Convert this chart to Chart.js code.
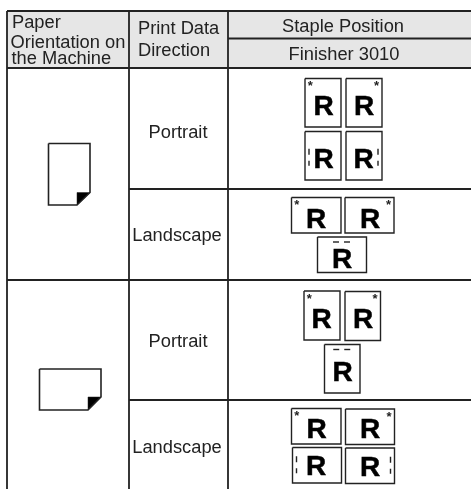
<!DOCTYPE html>
<html>
<head>
<meta charset="utf-8">
<title>Staple Position</title>
<script src="https://cdn.jsdelivr.net/npm/chart.js@4/dist/chart.umd.min.js"></script>
<style>
html, body { margin: 0; padding: 0; background: #fff; }
canvas { display: block; }
</style>
</head>
<body>
<canvas id="chart" width="471" height="489"></canvas>
<script>
// table text
const paperHeader = ['Paper', 'Orientation on', 'the Machine'];
const directionHeader = ['Print Data', 'Direction'];
const stapleHeader = 'Staple Position';
const finisherHeader = 'Finisher 3010';
const directions = ['Portrait', 'Landscape', 'Portrait', 'Landscape'];
const sheetLetter = 'R';
const stapleStar = '*';

// staple marks of every sheet, row by row
const staplesByRow = [
    ['topLeft', 'topRight', 'sideLeft', 'sideRight'],
    ['topLeft', 'topRight', 'top'],
    ['topLeft', 'topRight', 'top'],
    ['topLeft', 'topRight', 'sideLeft', 'sideRight']
];

// layout, in table units (1 unit = 1 px of the picture)
const columnEdges = [7, 129, 228];
const headerRows = [11, 38.5, 68];
const rowEdges = [189, 280, 400];
const tableRight = 471;
const tableBottom = 489;
const directionBaselines = [137.5, 241, 347, 453];
const sheetBoxes = [
    [[305, 341, 78.5, 127, 323.5, 115], [346, 382, 78.5, 127, 364, 115], [305, 341, 131.5, 180, 323.5, 167.5], [346, 382, 131.5, 180, 363.5, 167.5]],
    [[291.5, 341, 197.5, 233, 316, 228], [345, 394, 197.5, 233, 370, 228], [317.5, 366.5, 237, 272.5, 342, 267.5]],
    [[304, 340, 291, 340, 321.5, 327.7], [345, 380.5, 291.5, 340.5, 363, 328.3], [324.5, 360, 344.5, 393, 342.5, 380.5]],
    [[291.5, 341, 408.5, 444, 316.5, 438.3], [345.5, 394.5, 409, 444.5, 370, 438.3], [292.5, 341.5, 447.5, 483, 316, 475], [345.5, 394.5, 448, 483.5, 370, 475.5]]
];
const ink = '#222222';
const headerFill = '#e6e6e6';

function polyline(points, width, fillColor) {
    return {
        type: 'line',
        data: points.map(p => ({ x: p[0], y: p[1] })),
        borderColor: ink,
        borderWidth: width,
        backgroundColor: fillColor || 'transparent',
        fill: fillColor ? 'shape' : false,
        pointRadius: 0,
        tension: 0,
        clip: false,
        order: 0
    };
}

function boxPath(l, r, t, b) {
    return [[l, t], [r, t], [r, b], [l, b], [l, t]];
}

const datasets = [];
const labels = [];

function addLabel(text, x, y, font, align) {
    labels.push({ text, x, y, font, align: align || 'left' });
}

// header shading goes under the rules (higher order draws first)
const shade = polyline(boxPath(columnEdges[0], tableRight, headerRows[0], headerRows[2]), 0, headerFill);
shade.order = 1;
datasets.push(shade);

// table rules
const rules = [
    [[columnEdges[0], headerRows[0]], [tableRight, headerRows[0]]],
    [[columnEdges[2], headerRows[1]], [tableRight, headerRows[1]]],
    [[columnEdges[0], headerRows[2]], [tableRight, headerRows[2]]],
    [[columnEdges[1], rowEdges[0]], [tableRight, rowEdges[0]]],
    [[columnEdges[0], rowEdges[1]], [tableRight, rowEdges[1]]],
    [[columnEdges[1], rowEdges[2]], [tableRight, rowEdges[2]]]
];
columnEdges.forEach(x => rules.push([[x, headerRows[0]], [x, tableBottom]]));
rules.forEach(r => datasets.push(polyline(r, 1.8)));

// paper icons with the folded corner
datasets.push(polyline([[48.5, 143.5], [90, 143.5], [90, 192.5], [77, 205], [48.5, 205], [48.5, 143.5]], 1.6));
datasets.push(polyline([[77, 192.5], [90, 192.5], [77, 205], [77, 192.5]], 0.5, '#000'));
datasets.push(polyline([[39.5, 369], [101, 369], [101, 397], [88, 410], [39.5, 410], [39.5, 369]], 1.6));
datasets.push(polyline([[88, 397], [101, 397], [88, 410], [88, 397]], 0.5, '#000'));

// sample sheets
const letterFont = 'bold 28px "Liberation Sans"';
const starFont = 'bold 13px "Liberation Sans"';
sheetBoxes.forEach((row, i) => {
    row.forEach((box, j) => {
        const [l, r, t, b, lx, ly] = box;
        datasets.push(polyline(boxPath(l, r, t, b), 1.4));
        addLabel(sheetLetter, lx, ly, letterFont, 'center');
        const staple = staplesByRow[i][j];
        const mid = (t + b) / 2;
        const tall = b - t > 40;
        if (staple === 'topLeft') addLabel(stapleStar, l + 5.3, t + 11.5, starFont, 'center');
        if (staple === 'topRight') addLabel(stapleStar, r - 5.5, t + 11.5, starFont, 'center');
        if (staple === 'sideLeft' || staple === 'sideRight') {
            const x = staple === 'sideLeft' ? l + 4 : r - 4;
            const off = tall ? 2 : 0;
            datasets.push(polyline([[x, mid - 9 + off], [x, mid - 3 + off]], 1.4));
            datasets.push(polyline([[x, mid + 3 + off], [x, mid + 8 + off]], 1.4));
        }
        if (staple === 'top') {
            const cx = (l + r) / 2;
            datasets.push(polyline([[cx - 9, t + 5], [cx - 3, t + 5]], 1.4));
            datasets.push(polyline([[cx + 2, t + 5], [cx + 8, t + 5]], 1.4));
        }
    });
});

// text
const textFont = '18.3px "Liberation Sans"';
addLabel(paperHeader[0], 12, 28, textFont);
addLabel(paperHeader[1], 10.5, 47.5, textFont);
addLabel(paperHeader[2], 11.5, 64, textFont);
addLabel(directionHeader[0], 138, 33.5, textFont);
addLabel(directionHeader[1], 138, 56, textFont);
addLabel(stapleHeader, 343, 32, textFont, 'center');
addLabel(finisherHeader, 344, 59.5, textFont, 'center');
directions.forEach((d, i) => addLabel(d, d === 'Portrait' ? 178 : 177, directionBaselines[i], textFont, 'center'));

const textPlugin = {
    id: 'tableText',
    afterDatasetsDraw(chart) {
        const { ctx, scales } = chart;
        ctx.save();
        ctx.textBaseline = 'alphabetic';
        ctx.lineWidth = 0.5;
        ctx.strokeStyle = '#000';
        labels.forEach(l => {
            const x = scales.x.getPixelForValue(l.x);
            const y = scales.y.getPixelForValue(l.y);
            ctx.font = l.font;
            ctx.textAlign = l.align;
            ctx.fillStyle = l.font === letterFont ? '#000' : ink;
            ctx.fillText(l.text, x, y);
            // the letters on the sheets are a bit heavier than the bold face
            if (l.font === letterFont) ctx.strokeText(l.text, x, y);
        });
        ctx.restore();
    }
};

new Chart(document.getElementById('chart').getContext('2d'), {
    type: 'line',
    data: { datasets },
    plugins: [textPlugin],
    options: {
        responsive: false,
        animation: false,
        events: [],
        parsing: false,
        normalized: true,
        layout: { padding: 0 },
        plugins: { legend: { display: false }, tooltip: { enabled: false }, title: { display: false } },
        scales: {
            x: { type: 'linear', display: false, min: 0, max: 471 },
            y: { type: 'linear', display: false, min: 0, max: 489, reverse: true }
        }
    }
});
</script>
</body>
</html>
